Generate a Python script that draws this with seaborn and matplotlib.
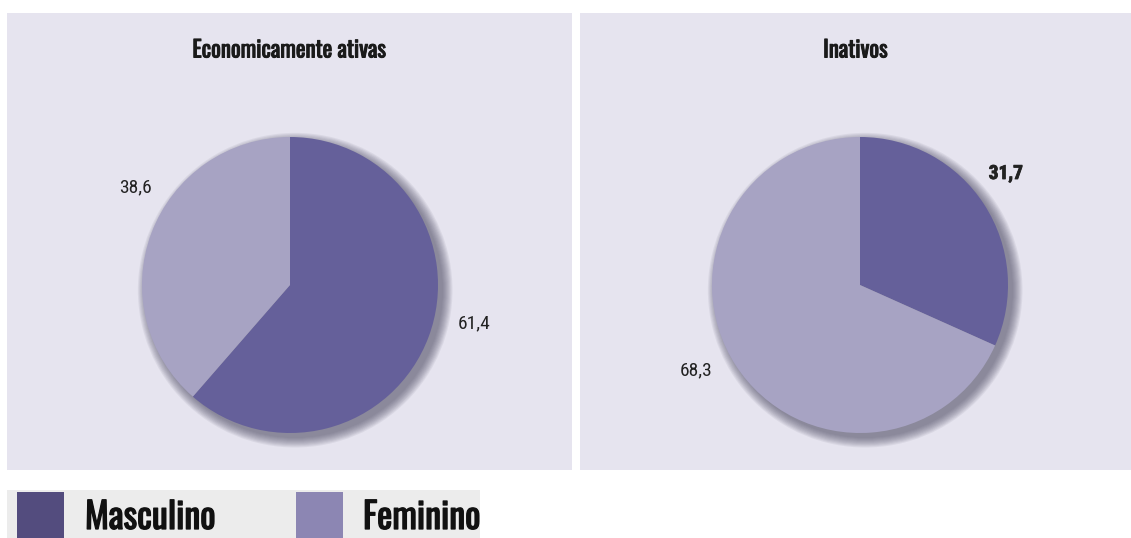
import matplotlib
matplotlib.use('Agg')
import matplotlib.pyplot as plt
import matplotlib.patheffects as pe
from matplotlib.patches import Circle, Rectangle
import seaborn as sns

# dados (%)
panels = ['Economicamente ativas', 'Inativos']
series = ['Masculino', 'Feminino']
ativas = [61.4, 38.6]
inativos = [31.7, 68.3]
ativas_labels = ['61,4', '38,6']
inativos_labels = ['31,7', '68,3']

sns.set_theme(style='white')
plt.rcParams['font.family'] = ['Roboto Condensed', 'Open Sans Condensed', 'DejaVu Sans']
heavy = ['Oswald', 'League Gothic', 'Roboto Condensed', 'Open Sans Condensed', 'DejaVu Sans']

pie_colors = ['#65609a', '#a7a3c3']
key_colors = ['#534c7e', '#8c86b3']
bg = '#e6e4ef'

W, H = 1131, 538
fig = plt.figure(figsize=(W / 100, H / 100), dpi=100)
fig.patch.set_facecolor('white')

R = 148  # raio em pixels


def make_ax(x0, x1, y0, y1):
    return fig.add_axes([x0 / W, 1 - y1 / H, (x1 - x0) / W, (y1 - y0) / H])


def draw_pie(ax, box, center, values, labels, label_pos, bold, title):
    x0, x1, y0, y1 = box
    cx, cy = center
    # sombra suave
    for i in range(10):
        ax.add_patch(Circle((0.035, -0.035), 1 + i * 0.007, color='#4a4860',
                            alpha=0.08, lw=0, zorder=1))
    wedges, _ = ax.pie(values, colors=pie_colors, startangle=90, counterclock=False,
                       radius=1, frame=True, wedgeprops=dict(linewidth=0))
    for w in wedges:
        w.set_zorder(2)
    ax.set_facecolor(bg)
    ax.set_frame_on(True)
    ax.set_aspect('auto')
    ax.set_xlim(-(cx - x0) / R, (x1 - cx) / R)
    ax.set_ylim(-(y1 - cy) / R, (cy - y0) / R)
    ax.set_xticks([])
    ax.set_yticks([])
    ax.grid(False)
    for s in ax.spines.values():
        s.set_visible(False)
    for lab, (x, y), b in zip(labels, label_pos, bold):
        t = ax.text(x, y, lab, ha='center', va='center', fontsize=14,
                    fontweight='bold' if b else 'normal', color='#222222', zorder=3)
        if b:
            t.set_path_effects([pe.withStroke(linewidth=0.6, foreground='#222222')])
    ty = 1 - (50 - y0) / (y1 - y0)
    ax.text(0.5, ty, title, transform=ax.transAxes, ha='center', va='center',
            fontsize=16.5, family=heavy, color='#1a1a1a',
            path_effects=[pe.withStroke(linewidth=0.7, foreground='#1a1a1a')])


box1 = (7, 572, 13, 470)
ax1 = make_ax(*box1)
draw_pie(ax1, box1, (290, 285), ativas, ativas_labels,
         [(1.243, -0.257), (-1.047, 0.662)], [False, False], panels[0])

box2 = (580, 1131, 13, 470)
ax2 = make_ax(*box2)
draw_pie(ax2, box2, (860, 285), inativos, inativos_labels,
         [(0.986, 0.75), (-1.108, -0.574)], [True, False], panels[1])

# legenda
axl = fig.add_axes([7 / W, 0, 473 / W, 48 / H])
axl.set_facecolor('#ececec')
axl.set_xlim(0, 473)
axl.set_ylim(0, 48)
axl.set_xticks([])
axl.set_yticks([])
for s in axl.spines.values():
    s.set_visible(False)
for name, c, kx, tx in zip(series, key_colors, [10, 289], [78, 356]):
    axl.add_patch(Rectangle((kx, -5), 47, 51, color=c, lw=0))
    axl.text(tx, 20, name, ha='left', va='center', fontsize=26,
             family=heavy, color='#111111',
             path_effects=[pe.withStroke(linewidth=0.9, foreground='#111111')])

fig.savefig('out.png', dpi=100, facecolor='white')
